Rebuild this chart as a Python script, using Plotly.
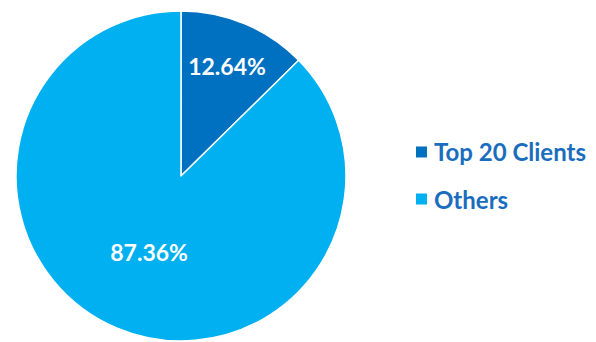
import plotly.graph_objects as go

# Revenue share by client group
labels = ["Top 20 Clients", "Others"]
shares = [12.64, 87.36]
colors = ["#0070C0", "#00B0F0"]

fig = go.Figure(
    go.Pie(
        labels=labels,
        values=shares,
        sort=False,
        direction="clockwise",
        rotation=0,
        marker=dict(colors=colors, line=dict(color="white", width=1.5)),
        texttemplate="%{value:.2f}%",
        textposition="inside",
        insidetextorientation="horizontal",
        textfont=dict(family="Lato", size=23, color="white", weight="bold"),
        hoverinfo="label+value",
        domain=dict(x=[0.0268, 0.5805], y=[0.003, 0.968]),
        showlegend=False,
    )
)

# Key: coloured square plus label for each slice
key_y = [0.5556, 0.4181]
half_h = 5.5 / 342
for lab, col, yy in zip(labels, colors, key_y):
    fig.add_shape(
        type="rect", xref="paper", yref="paper",
        x0=0.698, x1=0.7164, y0=yy - half_h, y1=yy + half_h,
        fillcolor=col, line=dict(width=0),
    )
    fig.add_annotation(
        x=0.724, y=yy, xref="paper", yref="paper",
        xanchor="left", yanchor="middle", showarrow=False,
        text=lab,
        font=dict(family="Lato", size=24, color="#1A6DBE", weight="bold"),
    )

fig.update_layout(
    width=596,
    height=342,
    margin=dict(l=0, r=0, t=0, b=0),
    paper_bgcolor="white",
    plot_bgcolor="white",
)

fig.write_html("out.html")
